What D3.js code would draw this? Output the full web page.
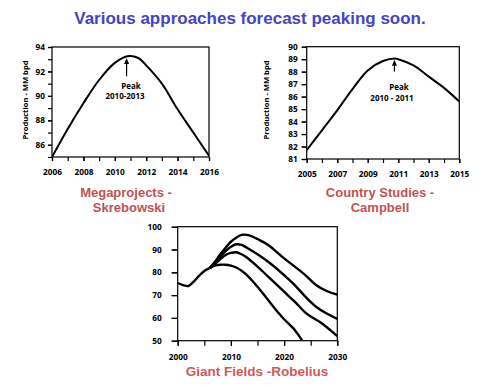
<!DOCTYPE html>
<html><head><meta charset="utf-8">
<script src="https://cdn.jsdelivr.net/npm/d3@7"></script>
<style>body{margin:0;background:#fff}svg{display:block}</style>
</head><body>
<script>
// ---- Data ----
const megaYears  = [2006, 2007, 2008, 2009, 2010, 2010.8, 2011.5, 2012, 2013, 2014, 2015, 2016];
const megaValues = [85.0, 87.3, 89.4, 91.3, 92.7, 93.25, 93.1, 92.5, 91.0, 88.9, 87.0, 85.1];
const megaXTicks = [2006, 2008, 2010, 2012, 2014, 2016];
const megaYTicks = [86, 88, 90, 92, 94];

const campYears  = [2005, 2006, 2007, 2008, 2009, 2010, 2010.8, 2011, 2012, 2013, 2014, 2015];
const campValues = [81.7, 83.3, 84.9, 86.6, 88.1, 88.85, 89.05, 89.0, 88.5, 87.6, 86.7, 85.6];
const campXTicks = [2005, 2007, 2009, 2011, 2013, 2015];
const campYTicks = [81, 82, 83, 84, 85, 86, 87, 88, 89, 90];

const giantCommonYears  = [2000, 2001, 2002, 2003, 2004, 2005, 2006];
const giantCommonValues = [75.3, 74.4, 74.0, 75.9, 78.4, 80.6, 81.8];
const giantYearsA  = [2006, 2007, 2008, 2009, 2010, 2011, 2012, 2013, 2015, 2017, 2019, 2020, 2022, 2023.4];
const giantValuesA = [81.8, 82.9, 83.3, 83.3, 82.9, 82.1, 80.7, 78.8, 73.7, 67.8, 62.0, 59.4, 54.7, 50.0];
const giantYearsB  = [2006, 2007, 2008, 2009, 2010, 2011, 2012, 2013, 2015, 2017, 2020, 2022, 2024, 2025, 2027, 2030];
const giantValuesB = [81.8, 83.6, 85.8, 87.6, 88.5, 88.8, 87.9, 86.5, 82.5, 78.1, 71.5, 67.1, 62.3, 60.6, 57.8, 52.0];
const giantYearsC  = [2006, 2007, 2008, 2009, 2010, 2011, 2012, 2013, 2015, 2017, 2020, 2022, 2024, 2026, 2028, 2030];
const giantValuesC = [81.8, 84.2, 86.8, 89.3, 91.2, 92.3, 92.0, 90.8, 87.9, 84.6, 78.8, 74.4, 69.3, 64.9, 61.9, 59.6];
const giantYearsD  = [2006, 2007, 2008, 2009, 2010, 2011, 2012, 2013, 2014, 2015, 2017, 2020, 2022, 2024, 2026, 2028, 2030];
const giantValuesD = [81.8, 84.6, 87.9, 90.8, 93.4, 95.2, 96.4, 96.4, 95.7, 94.6, 92.0, 86.1, 82.5, 78.8, 74.4, 71.8, 70.2];
const giantXTicks = [2000, 2010, 2020, 2030];
const giantYTicks = [50, 60, 70, 80, 90, 100];

const titleText = "Various approaches forecast peaking soon.";

// ---- Drawing ----
const svg = d3.select("body").append("svg").attr("width", 487).attr("height", 387);
const tickFont = "'Open Sans', sans-serif";

svg.append("text").attr("x", 250).attr("y", 23.5).attr("text-anchor", "middle")
  .attr("font-family", "'Liberation Sans', Arial, sans-serif").attr("font-weight", "bold")
  .attr("font-size", 17).attr("fill", "#4444c6").text(titleText);

function panel(o) {
  const g = svg.append("g");
  const x = d3.scaleLinear().domain(o.xDomain).range([o.left, o.right]);
  const y = d3.scaleLinear().domain(o.yDomain).range([o.bottom, o.top]);
  const xa = g.append("g").attr("transform", `translate(0,${o.bottom})`)
    .call(d3.axisBottom(x).tickValues(o.xMinor).tickSize(o.xTickSize).tickSizeOuter(0).tickFormat(""));
  xa.select(".domain").remove();
  const xl = g.append("g").attr("transform", `translate(0,${o.bottom})`)
    .call(d3.axisBottom(x).tickValues(o.xTicks).tickSize(o.xTickSize).tickPadding(o.xPad).tickFormat(d3.format("d")));
  xl.select(".domain").remove();
  const ya = g.append("g").attr("transform", `translate(${o.left},0)`)
    .call(d3.axisLeft(y).tickValues(o.yMinor).tickSize(o.yTickSize).tickFormat(""));
  ya.select(".domain").remove();
  const yl = g.append("g").attr("transform", `translate(${o.left},0)`)
    .call(d3.axisLeft(y).tickValues(o.yTicks).tickSize(o.yTickSize).tickPadding(o.yPad).tickFormat(d3.format("d")));
  yl.select(".domain").remove();
  g.selectAll(".tick line").attr("stroke", "#000").attr("stroke-width", 1.2);
  g.selectAll(".tick text").attr("font-family", tickFont).attr("font-weight", "bold")
    .attr("font-size", 8.3).attr("fill", "#000");
  g.append("rect").attr("x", o.left).attr("y", o.top).attr("width", o.right - o.left)
    .attr("height", o.bottom - o.top).attr("fill", "none").attr("stroke", "#000").attr("stroke-width", 1.2);
  const cid = "clip" + Math.round(o.left);
  g.append("clipPath").attr("id", cid).append("rect").attr("x", o.left).attr("y", o.top - 3)
    .attr("width", o.right - o.left).attr("height", o.bottom - o.top + 3);
  const line = d3.line().x(d => x(d[0])).y(d => y(d[1])).curve(d3.curveCatmullRom.alpha(0.5));
  o.series.forEach(s => {
    g.append("path").attr("clip-path", `url(#${cid})`)
      .attr("d", line(s[0].map((v, i) => [v, s[1][i]])))
      .attr("fill", "none").attr("stroke", "#000").attr("stroke-width", o.lw).attr("stroke-linejoin", "round");
  });
  return {g, x, y};
}

function peakNote(p, px, yFrom, yTo) {
  const X = p.x(px);
  p.g.append("line").attr("x1", X).attr("x2", X).attr("y1", p.y(yFrom)).attr("y2", p.y(yTo) + 4)
    .attr("stroke", "#000").attr("stroke-width", 1.2);
  p.g.append("path").attr("d", `M${X},${p.y(yTo)} L${X - 2.5},${p.y(yTo) + 6} L${X + 2.5},${p.y(yTo) + 6} Z`).attr("fill", "#000");
}

function ylabel(x, y, text) {
  svg.append("text").attr("transform", `translate(${x},${y}) rotate(-90)`).attr("text-anchor", "middle")
    .attr("font-family", tickFont).attr("font-weight", "bold").attr("font-size", 7.6).attr("fill", "#000").text(text);
}
function note(x, y, text) {
  svg.append("text").attr("x", x).attr("y", y).attr("text-anchor", "middle")
    .attr("font-family", tickFont).attr("font-weight", "bold").attr("font-size", 8).attr("fill", "#000").text(text);
}
function redTitle(x, y, text, size, color) {
  svg.append("text").attr("x", x).attr("y", y).attr("text-anchor", "middle")
    .attr("font-family", "'Liberation Sans', Arial, sans-serif").attr("font-weight", "bold")
    .attr("font-size", size).attr("fill", color).text(text);
}

// Panel 1
const p1 = panel({xDomain: [2006, 2016], yDomain: [85, 94], left: 52, right: 209, top: 47, bottom: 157,
  xMinor: d3.range(2006, 2017), xTicks: megaXTicks, xTickSize: 4, xPad: 8,
  yMinor: d3.range(85, 95), yTicks: megaYTicks, yTickSize: 4, yPad: 3,
  series: [[megaYears, megaValues]], lw: 2});
peakNote(p1, 2010.75, 91.6, 93.1);
note(131, 88.5, "Peak");
note(125, 99, "2010-2013");
ylabel(28, 100, "Production - MM bpd");
redTitle(126, 197, "Megaprojects -", 13, "#c55050");
redTitle(129, 212, "Skrebowski", 13, "#c55050");

// Panel 2
const p2 = panel({xDomain: [2005, 2015], yDomain: [81, 90], left: 306.7, right: 459.3, top: 46.7, bottom: 159,
  xMinor: d3.range(2005, 2016), xTicks: campXTicks, xTickSize: 4, xPad: 8,
  yMinor: d3.range(81, 91), yTicks: campYTicks, yTickSize: 5, yPad: 4,
  series: [[campYears, campValues]], lw: 2});
peakNote(p2, 2010.75, 88.0, 88.95);
note(399, 89.5, "Peak");
note(392, 101, "2010 - 2011");
ylabel(269, 100, "Production - MM bpd");
redTitle(380, 197, "Country Studies -", 13, "#c55050");
redTitle(380, 212, "Campbell", 13, "#c55050");

// Panel 3
const p3 = panel({xDomain: [2000, 2030], yDomain: [50, 100], left: 177.7, right: 337.3, top: 226.7, bottom: 340.7,
  xMinor: d3.range(2000, 2031, 5), xTicks: giantXTicks, xTickSize: 5, xPad: 8,
  yMinor: giantYTicks, yTickSize: 6, yPad: 10,
  yTicks: giantYTicks,
  series: [[giantCommonYears, giantCommonValues], [giantYearsA, giantValuesA], [giantYearsB, giantValuesB],
           [giantYearsC, giantValuesC], [giantYearsD, giantValuesD]], lw: 2.4});
redTitle(257, 376, "Giant Fields -Robelius", 13.5, "#d05858");
</script>
</body></html>
